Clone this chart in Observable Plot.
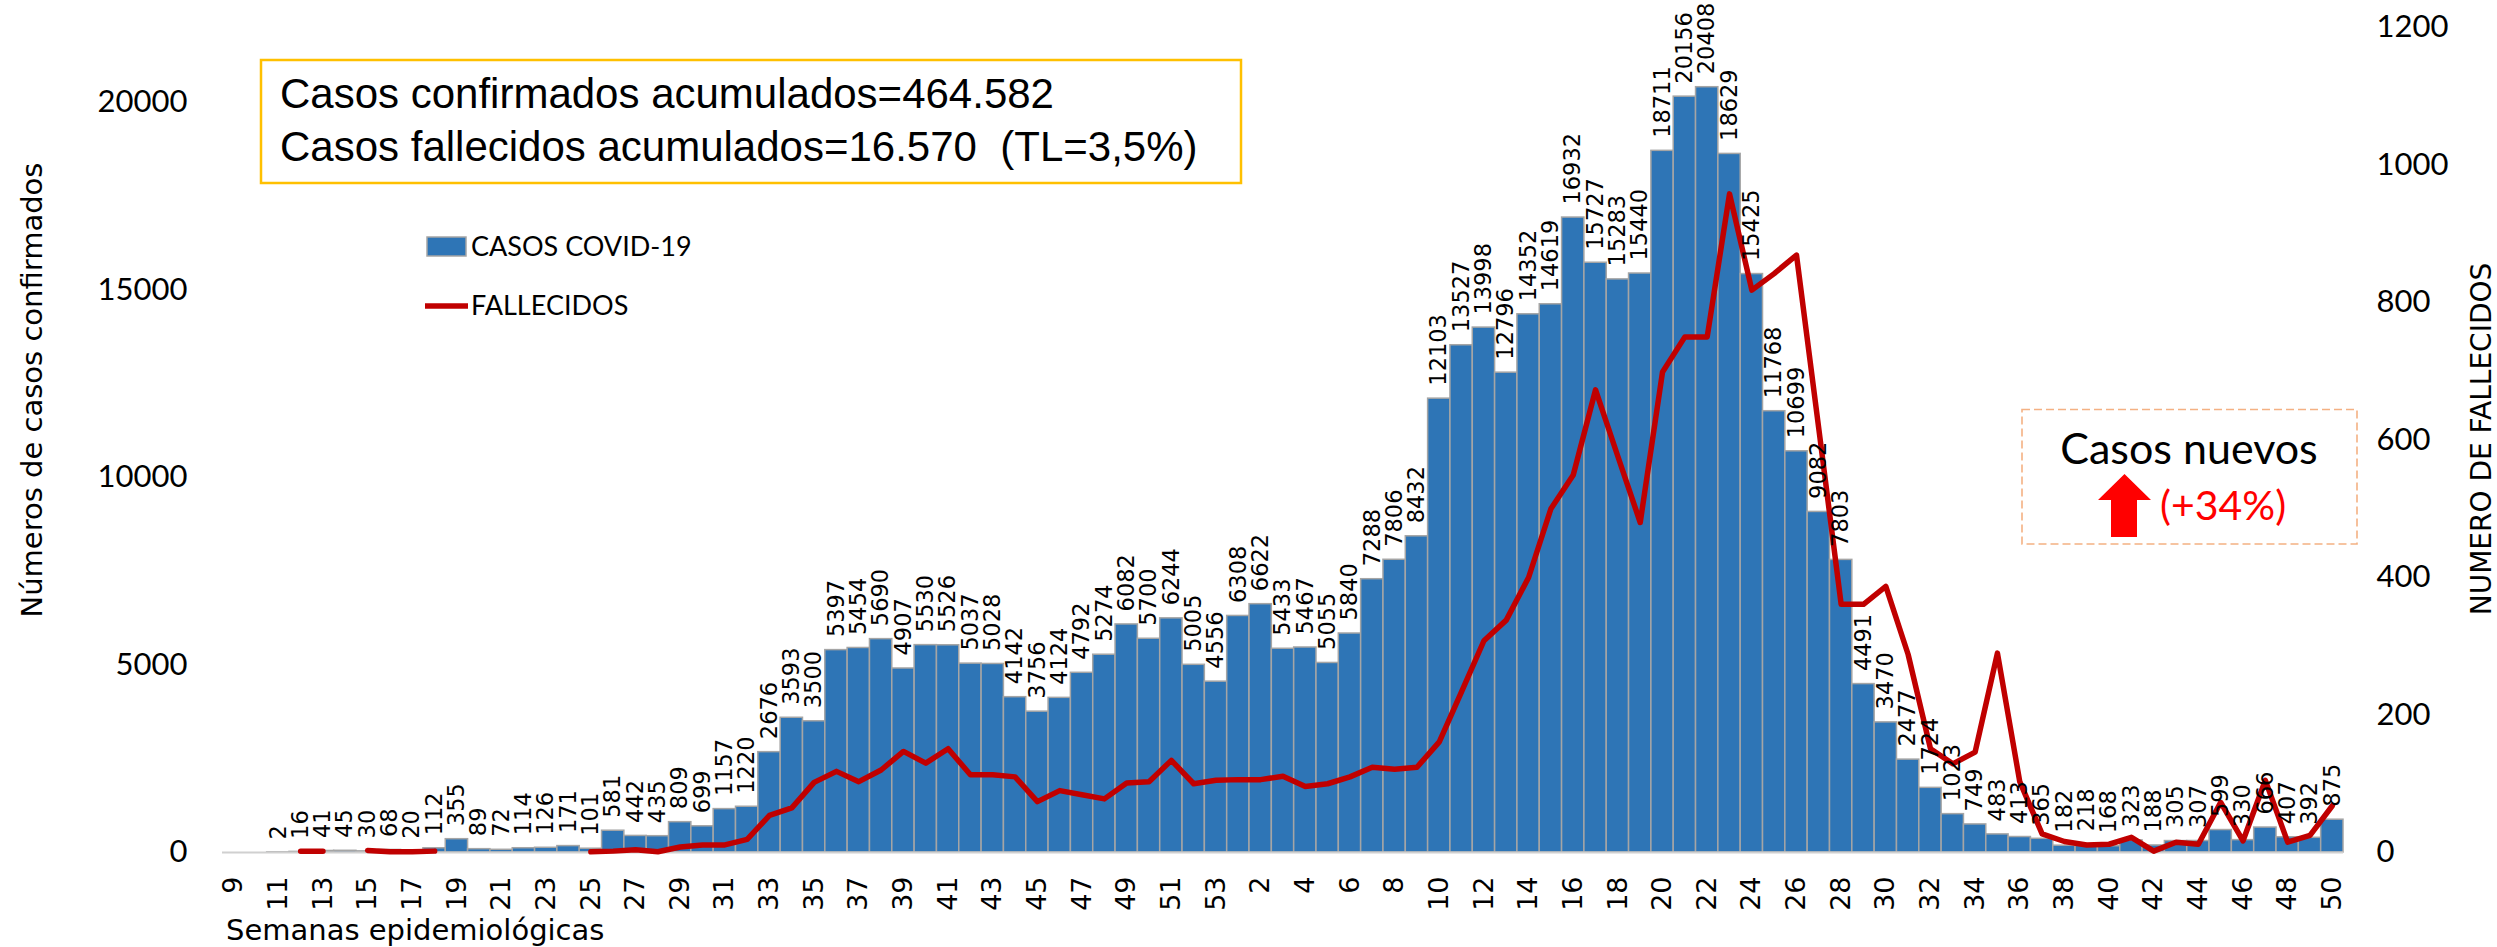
<!DOCTYPE html>
<html>
<head>
<meta charset="utf-8">
<script src="https://cdn.jsdelivr.net/npm/d3@7"></script>
<script src="https://cdn.jsdelivr.net/npm/@observablehq/plot@0.6"></script>
<style>
html,body{margin:0;padding:0;background:#fff;}
svg{display:block;}
</style>
</head>
<body>
<div id="chart"></div>
<script>
// ---- Data ----
const weeks2020 = [9,10,11,12,13,14,15,16,17,18,19,20,21,22,23,24,25,26,27,28,29,30,31,32,33,34,35,36,37,38,39,40,41,42,43,44,45,46,47,48,49,50,51,52,53];
const weeks2021 = [1,2,3,4,5,6,7,8,9,10,11,12,13,14,15,16,17,18,19,20,21,22,23,24,25,26,27,28,29,30,31,32,33,34,35,36,37,38,39,40,41,42,43,44,45,46,47,48,49,50];

const cases2020 = [null,null,2,16,41,45,30,68,20,112,355,89,72,114,126,171,101,581,442,435,809,699,1157,1220,2676,3593,3500,5397,5454,5690,4907,5530,5526,5037,5028,4142,3756,4124,4792,5274,6082,5700,6244,5005,4556];
const cases2021 = [6308,6622,5433,5467,5055,5840,7288,7806,8432,12103,13527,13998,12796,14352,14619,16932,15727,15283,15440,18711,20156,20408,18629,15425,11768,10699,9082,7803,4491,3470,2477,1724,1023,749,483,413,365,182,218,168,323,188,305,307,599,330,666,407,392,875];

const deaths2020 = [null,null,null,2,2,null,3,1,1,2,null,null,null,null,null,null,1,2,4,1,8,11,11,19,54,65,102,118,103,120,147,130,151,113,113,110,74,90,84,78,101,103,134,100,105];
const deaths2021 = [106,106,111,96,100,110,124,121,124,161,234,308,338,400,500,549,673,576,480,699,750,750,958,818,842,869,616,361,361,387,288,151,129,146,290,103,27,16,11,12,22,2,15,12,73,17,105,15,25,68];

const leftTicks = [0,5000,10000,15000,20000];
const rightTicks = [0,200,400,600,800,1000,1200];
const leftMax = 22000;
const rightMax = 1200;

const boxLine1 = "Casos confirmados acumulados=464.582";
const boxLine2 = "Casos fallecidos acumulados=16.570  (TL=3,5%)";
const legendBars = "CASOS COVID-19";
const legendLine = "FALLECIDOS";
const yTitleLeft = "Números de casos confirmados";
const yTitleRight = "NUMERO DE FALLECIDOS";
const xTitle = "Semanas epidemiológicas";
const noteTitle = "Casos nuevos";
const noteValue = "(+34%)";

// ---- Build table ----
const K = leftMax / rightMax;
const data = [];
weeks2020.forEach((w, i) => data.push({key: "2020-" + w, week: w, cases: cases2020[i], deaths: deaths2020[i]}));
weeks2021.forEach((w, i) => data.push({key: "2021-" + w, week: w, cases: cases2021[i], deaths: deaths2021[i]}));
const keys = data.map(d => d.key);
const tickKeys = keys.filter((k, i) => i % 2 === 0);
const weekOf = new Map(data.map(d => [d.key, d.week]));
const withCases = data.filter(d => d.cases != null);

const BLUE = "#2E75B6", RED = "#C00000";

const chart = Plot.plot({
  width: 2497,
  height: 947,
  marginLeft: 222,
  marginRight: 154,
  marginTop: 27,
  marginBottom: 95,
  style: {background: "#fff", color: "#000", fontFamily: "DejaVu Sans"},
  x: {type: "band", domain: keys, padding: 0},
  y: {domain: [0, leftMax]},
  marks: [
    Plot.barY(withCases, {x: "key", y: "cases", fill: BLUE, stroke: "#A5A5A5", strokeWidth: 1.5}),
    Plot.ruleY([0], {stroke: "#D0D0D0", strokeWidth: 2}),
    Plot.line(data, {x: "key", y: d => d.deaths == null ? null : d.deaths * K, stroke: RED, strokeWidth: 5.5, strokeLinejoin: "round"}),
    Plot.text(withCases, {x: "key", y: "cases", text: d => String(d.cases), rotate: -90, textAnchor: "start", dy: -13, fontSize: 22.5, fontFamily: "DejaVu Sans", fill: "#000"}),
    Plot.axisX({ticks: tickKeys, tickFormat: k => String(weekOf.get(k)), tickRotate: -90, tickSize: 0, tickPadding: 24, fontSize: 27, fontFamily: "DejaVu Sans", label: null}),
    Plot.axisY({ticks: leftTicks, tickFormat: v => String(v), tickSize: 0, tickPadding: 35, fontSize: 31, fontFamily: "Lato", label: null}),
    Plot.axisY({anchor: "right", ticks: rightTicks.map(v => v * K), tickFormat: v => String(Math.round(v / K)), tickSize: 0, tickPadding: 33, fontSize: 31, fontFamily: "Lato", label: null})
  ]
});

document.getElementById("chart").appendChild(chart);

// ---- Annotations ----
const svg = d3.select(chart);
const ann = svg.append("g").attr("text-anchor", "start").attr("fill", "#000");

// Summary box
ann.append("rect").attr("x", 261).attr("y", 60).attr("width", 980).attr("height", 123)
  .attr("fill", "#fff").attr("stroke", "#FFC000").attr("stroke-width", 2.5);
ann.append("text").attr("x", 280).attr("y", 108).attr("text-anchor", "start")
  .attr("font-family", "Liberation Sans, Arial, sans-serif").attr("font-size", "42px").attr("fill", "#000")
  .text(boxLine1);
ann.append("text").attr("x", 280).attr("y", 161).attr("text-anchor", "start")
  .attr("font-family", "Liberation Sans, Arial, sans-serif").attr("font-size", "42px").attr("fill", "#000")
  .attr("xml:space", "preserve").style("white-space", "pre")
  .text(boxLine2);

// Legend
ann.append("rect").attr("x", 427).attr("y", 237).attr("width", 39).attr("height", 19)
  .attr("fill", BLUE).attr("stroke", "#A5A5A5").attr("stroke-width", 1.5);
ann.append("text").attr("x", 471).attr("y", 256).attr("text-anchor", "start")
  .attr("font-family", "Lato").attr("font-size", "27px").attr("fill", "#000").text(legendBars);
ann.append("line").attr("x1", 425).attr("x2", 468).attr("y1", 306).attr("y2", 306)
  .attr("stroke", RED).attr("stroke-width", 5.5);
ann.append("text").attr("x", 471).attr("y", 315).attr("text-anchor", "start")
  .attr("font-family", "Lato").attr("font-size", "27px").attr("fill", "#000").text(legendLine);

// Axis titles
ann.append("text").attr("transform", "translate(42,390) rotate(-90)")
  .attr("text-anchor", "middle").attr("font-family", "DejaVu Sans").attr("font-size", "29px").attr("fill", "#000")
  .text(yTitleLeft);
ann.append("text").attr("transform", "translate(2491,439) rotate(-90)")
  .attr("text-anchor", "middle").attr("font-family", "DejaVu Sans").attr("font-size", "28px").attr("fill", "#000")
  .text(yTitleRight);
ann.append("text").attr("x", 226).attr("y", 940).attr("text-anchor", "start")
  .attr("font-family", "DejaVu Sans").attr("font-size", "29px").attr("fill", "#000")
  .text(xTitle);

// "Casos nuevos" note
ann.append("rect").attr("x", 2022).attr("y", 409.5).attr("width", 335).attr("height", 134.5)
  .attr("fill", "none").attr("stroke", "#F4B183").attr("stroke-width", 1.6).attr("stroke-dasharray", "8,4");
ann.append("text").attr("x", 2189).attr("y", 463.5).attr("text-anchor", "middle")
  .attr("font-family", "Lato").attr("font-size", "43px").attr("fill", "#000").text(noteTitle);
ann.append("path").attr("d", "M2124.5,474 L2151,500 L2137,500 L2137,537 L2111,537 L2111,500 L2098,500 Z")
  .attr("fill", "#FF0000");
ann.append("text").attr("x", 2160).attr("y", 520).attr("text-anchor", "start")
  .attr("font-family", "Lato").attr("font-size", "41px").attr("fill", "#FF0000").text(noteValue);
</script>
</body>
</html>
